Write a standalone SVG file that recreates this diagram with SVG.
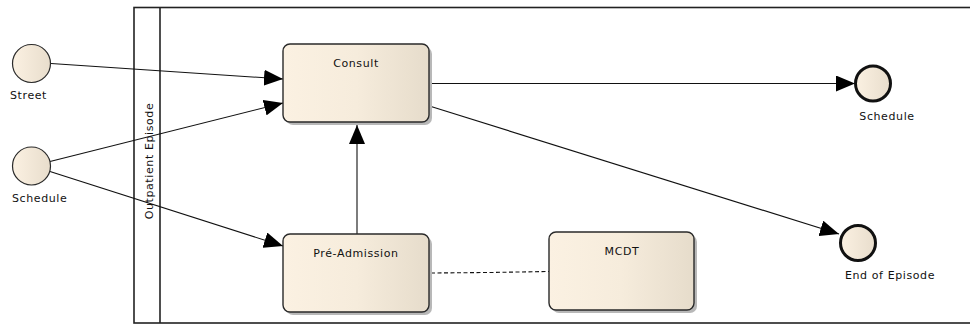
<svg xmlns="http://www.w3.org/2000/svg" width="970" height="326" viewBox="0 0 970 326">
  <style>
    text { font-family: "DejaVu Sans", "Liberation Sans", sans-serif; font-size: 11px; fill: #111; letter-spacing: 0.6px; }
    .task { fill: url(#taskFill); stroke: #2a2a2a; stroke-width: 1.4; }
    .shadow { fill: #b8b8b8; }
    .start { fill: url(#evFill); stroke: #2a2a2a; stroke-width: 1.2; }
    .end { fill: url(#evFill); stroke: #111; stroke-width: 3; }
    .flow { fill: none; stroke: #111; stroke-width: 1.1; }
    .assoc { fill: none; stroke: #111; stroke-width: 1.1; stroke-dasharray: 4 2.5; }
    .pool { fill: none; stroke: #222; stroke-width: 1.6; }
  </style>
  <defs>
    <linearGradient id="taskFill" x1="0" y1="0" x2="1" y2="0">
      <stop offset="0" stop-color="#FBF1E2"/>
      <stop offset="0.5" stop-color="#F6ECDC"/>
      <stop offset="1" stop-color="#E6DCCB"/>
    </linearGradient>
    <linearGradient id="evFill" x1="0" y1="0" x2="1" y2="0">
      <stop offset="0" stop-color="#FBF1E2"/>
      <stop offset="1" stop-color="#E8DDCC"/>
    </linearGradient>
    <marker id="arrow" markerUnits="userSpaceOnUse" markerWidth="20" markerHeight="16" refX="19" refY="8" orient="auto">
      <path d="M0,0 L19,8 L0,16 z" fill="#000"/>
    </marker>
  </defs>

  <!-- pool with vertical lane header -->
  <g id="pool">
    <rect class="pool" x="134" y="7.5" width="845" height="315.5"/>
    <line class="pool" x1="160" y1="7.5" x2="160" y2="323"/>
    <text transform="translate(153,161) rotate(-90)" text-anchor="middle">Outpatient Episode</text>
  </g>

  <!-- sequence flows and association -->
  <g id="connectors">
    <line class="flow" x1="51" y1="63.5" x2="283" y2="79" marker-end="url(#arrow)"/>
    <line class="flow" x1="50" y1="161.5" x2="283" y2="103" marker-end="url(#arrow)"/>
    <line class="flow" x1="50" y1="171.5" x2="283" y2="246" marker-end="url(#arrow)"/>
    <line class="flow" x1="357" y1="234" x2="357" y2="125" marker-end="url(#arrow)"/>
    <line class="flow" x1="431" y1="83.5" x2="855" y2="83.5" marker-end="url(#arrow)"/>
    <line class="flow" x1="431" y1="106.5" x2="839" y2="234" marker-end="url(#arrow)"/>
    <polyline class="assoc" points="431,273 489,272.5 549,271.5"/>
  </g>

  <g id="start-street">
    <circle class="start" cx="31.5" cy="63.5" r="19"/>
    <text x="10" y="99">Street</text>
  </g>

  <g id="start-schedule">
    <circle class="start" cx="31.5" cy="166" r="19"/>
    <text x="12" y="201.5">Schedule</text>
  </g>

  <g id="task-consult">
    <rect class="shadow" x="286" y="47" width="146" height="78" rx="7"/>
    <rect class="task" x="283" y="44" width="146" height="78" rx="7"/>
    <text x="356" y="66.5" text-anchor="middle">Consult</text>
  </g>

  <g id="task-pre-admission">
    <rect class="shadow" x="286" y="237" width="146" height="78" rx="7"/>
    <rect class="task" x="283" y="234" width="146" height="78" rx="7"/>
    <text x="356" y="257" text-anchor="middle">Pré-Admission</text>
  </g>

  <g id="task-mcdt">
    <rect class="shadow" x="552" y="235" width="145" height="78" rx="7"/>
    <rect class="task" x="549" y="232" width="145" height="78" rx="7"/>
    <text x="622" y="254.5" text-anchor="middle">MCDT</text>
  </g>

  <g id="end-schedule">
    <circle class="end" cx="873" cy="83.5" r="17.5"/>
    <text x="887" y="119.5" text-anchor="middle">Schedule</text>
  </g>

  <g id="end-episode">
    <circle class="end" cx="858" cy="243" r="17.5"/>
    <text x="890" y="279" text-anchor="middle">End of Episode</text>
  </g>
</svg>
